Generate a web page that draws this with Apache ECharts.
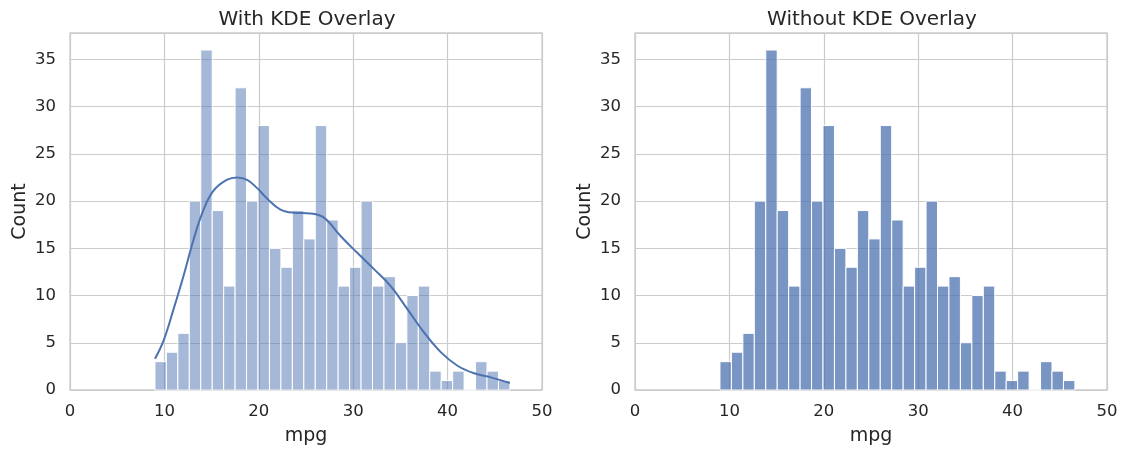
<!DOCTYPE html>
<html>
<head>
<meta charset="utf-8">
<script src="https://cdn.jsdelivr.net/npm/echarts@6/dist/echarts.min.js"></script>
<style>
html,body{margin:0;padding:0;background:#fff;}
#chart{width:1127px;height:456px;}
</style>
</head>
<body>
<div id="chart"></div>
<script>
// ---- data ----
const binStart = 9.0;
const binEnd = 46.6;
const counts = [3, 4, 6, 20, 36, 19, 11, 32, 20, 28, 15, 13, 19, 16, 28, 18, 11, 13, 20, 11, 12, 5, 10, 11, 2, 1, 2, 0, 3, 2, 1];
const kdeX = [9.0, 9.9, 10.97, 12.03, 13.1, 14.15, 15.2, 16.6, 17.7, 18.76, 19.8, 20.9, 22.3, 23.7, 25.5, 26.9, 28.66, 30.4, 32.2, 33.97, 35.74, 37.5, 39.3, 41.05, 42.8, 44.6, 46.6];
const kdeY = [3.3, 5.2, 8.56, 12.1, 15.97, 19.1, 21.1, 22.24, 22.5, 22.24, 21.4, 20.25, 19.1, 18.77, 18.7, 18.25, 16.3, 14.55, 12.8, 11.0, 8.56, 6.1, 3.98, 2.57, 1.77, 1.34, 0.74];
const titles = ['With KDE Overlay', 'Without KDE Overlay'];
const xName = 'mpg';
const yName = 'Count';

// ---- build ----
const binW = (binEnd - binStart) / counts.length;
const histData = counts.map((c, i) => [binStart + i * binW, binStart + (i + 1) * binW, c]);
const kdeData = kdeX.map((x, i) => [x, kdeY[i]]);

const txt = '#262626';
const font = 'DejaVu Sans';

function renderBar(fill) {
  return function (params, api) {
    const p0 = api.coord([api.value(0), 0]);
    const p1 = api.coord([api.value(1), api.value(2)]);
    return {
      type: 'rect',
      shape: { x: p0[0], y: p1[1], width: p1[0] - p0[0], height: p0[1] - p1[1] },
      style: { fill: fill, stroke: '#ffffff', lineWidth: 1 }
    };
  };
}

function xAx(gi) {
  return {
    type: 'value', gridIndex: gi, min: 0, max: 50, interval: 10,
    name: xName, nameLocation: 'middle', nameGap: 37,
    nameTextStyle: { fontFamily: font, fontSize: 19, color: txt },
    axisLine: { show: false }, axisTick: { show: false },
    axisLabel: { fontFamily: font, fontSize: 16.5, color: txt, margin: 13 },
    splitLine: { show: true, lineStyle: { color: '#cccccc', width: 1.2 } }
  };
}
function yAx(gi) {
  return {
    type: 'value', gridIndex: gi, min: 0, max: 37.8, interval: 5,
    name: yName, nameLocation: 'middle', nameGap: 40,
    nameTextStyle: { fontFamily: font, fontSize: 19, color: txt },
    axisLine: { show: false }, axisTick: { show: false },
    axisLabel: { fontFamily: font, fontSize: 16.5, color: txt, margin: 14, showMaxLabel: false },
    splitLine: { show: true, lineStyle: { color: '#cccccc', width: 1.2 } }
  };
}

const chart = echarts.init(document.getElementById('chart'), null, { renderer: 'canvas' });
chart.setOption({
  animation: false,
  backgroundColor: '#ffffff',
  title: [
    { text: titles[0], left: 302, top: 5, textAlign: 'center', textStyle: { fontFamily: font, fontSize: 20, fontWeight: 'normal', color: txt } },
    { text: titles[1], left: 867, top: 5, textAlign: 'center', textStyle: { fontFamily: font, fontSize: 20, fontWeight: 'normal', color: txt } }
  ],
  grid: [
    { left: 70, top: 33, width: 472, height: 357, show: true, borderColor: '#cccccc', borderWidth: 1.3, backgroundColor: 'transparent' },
    { left: 635, top: 33, width: 472, height: 357, show: true, borderColor: '#cccccc', borderWidth: 1.3, backgroundColor: 'transparent' }
  ],
  xAxis: [xAx(0), xAx(1)],
  yAxis: [yAx(0), yAx(1)],
  series: [
    { type: 'custom', xAxisIndex: 0, yAxisIndex: 0, data: histData, renderItem: renderBar('rgba(76,114,176,0.5)'), encode: { x: [0, 1], y: 2 }, z: 2 },
    { type: 'line', xAxisIndex: 0, yAxisIndex: 0, data: kdeData, smooth: 0.4, showSymbol: false, lineStyle: { color: '#4c72b0', width: 2 }, z: 3 },
    { type: 'custom', xAxisIndex: 1, yAxisIndex: 1, data: histData, renderItem: renderBar('rgba(76,114,176,0.75)'), encode: { x: [0, 1], y: 2 }, z: 2 }
  ]
});
</script>
</body>
</html>
